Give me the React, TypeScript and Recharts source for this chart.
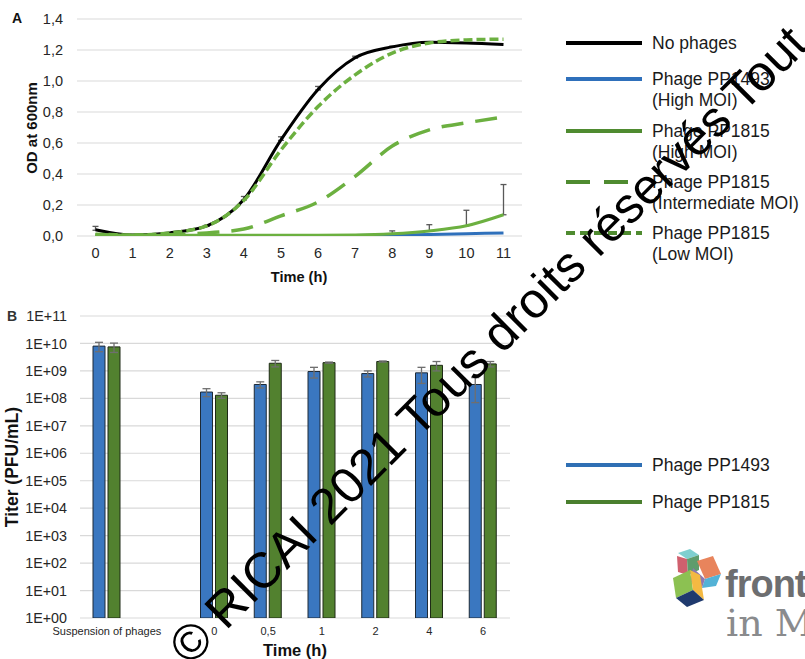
import React from 'react';
import { LineChart, Line, XAxis, YAxis, CartesianGrid, ErrorBar, BarChart, Bar } from 'recharts';

// ---------- Panel A data ----------
const hours = ['0', '1', '2', '3', '4', '5', '6', '7', '8', '9', '10', '11'];
const noPhages = [0.04, 0.006, 0.02, 0.065, 0.235, 0.62, 0.945, 1.15, 1.22, 1.25, 1.245, 1.235];
const pp1493High = [0.005, 0.003, 0.003, 0.003, 0.003, 0.003, 0.003, 0.004, 0.006, 0.01, 0.015, 0.02];
const pp1815High = [0.01, 0.005, 0.005, 0.005, 0.005, 0.005, 0.005, 0.007, 0.015, 0.033, 0.066, 0.137];
const pp1815Inter = [0.005, 0.004, 0.008, 0.02, 0.045, 0.13, 0.22, 0.385, 0.58, 0.685, 0.73, 0.767];
const pp1815Low = [0.012, 0.006, 0.02, 0.065, 0.23, 0.555, 0.835, 1.04, 1.18, 1.245, 1.265, 1.27];
const noPhagesErr = [0.022, null, null, 0.005, 0.02, 0.02, 0.02, 0.01, 0.005, null, null, null];
const pp1815HighErr = [null, null, null, null, null, null, null, null, 0.018, 0.04, 0.1, 0.195];
const odTicks = [0, 0.2, 0.4, 0.6, 0.8, 1.0, 1.2, 1.4];

// ---------- Panel B data ----------
const titerCats = ['Suspension of phages', '', '0', '0,5', '1', '2', '4', '6'];
const titer1493 = [8e9, null, 1.7e8, 3.2e8, 9.5e8, 8e8, 8.5e8, 3.2e8];
const titer1815 = [7.5e9, null, 1.3e8, 1.9e9, 2e9, 2.2e9, 1.6e9, 1.8e9];
const titer1493Err = [3e9, null, 0.55e8, 0.8e8, 0.4e9, 0.2e9, 0.5e9, 2.5e8];
const titer1815Err = [2.8e9, null, 0.3e8, 0.5e9, 0.1e9, 0.1e9, 0.6e9, 0.4e9];
const titerTicks = [1, 1e1, 1e2, 1e3, 1e4, 1e5, 1e6, 1e7, 1e8, 1e9, 1e10, 1e11];

const lineData = hours.map((t, i) => ({
  t,
  noPhages: noPhages[i],
  pp1493High: pp1493High[i],
  pp1815High: pp1815High[i],
  pp1815Inter: pp1815Inter[i],
  pp1815Low: pp1815Low[i],
  noErr: noPhagesErr[i] == null ? null : [0.003, noPhagesErr[i]],
  highErr: pp1815HighErr[i] == null ? null : [0, pp1815HighErr[i]],
}));

const barData = titerCats.map((c, i) => ({
  c,
  p1493: titer1493[i],
  p1815: titer1815[i],
  e1493: titer1493Err[i],
  e1815: titer1815Err[i],
}));

const FONT = '"Liberation Sans", Arial, Helvetica, sans-serif';
const BLACK = '#000000';
const BLUE_LINE = '#2f70bb';
const GREEN_LINE = '#6cb040';
const GREEN_LEG = '#4f8b30';
const BAR_BLUE = '#3a77c0';
const BAR_GREEN = '#52812f';

const legendA = [
  { name: ['No phages'], color: BLACK, dash: undefined as string | undefined, y: 43 },
  { name: ['Phage PP1493', '(High MOI)'], color: BLUE_LINE, dash: undefined, y: 79 },
  { name: ['Phage PP1815', '(High MOI)'], color: GREEN_LEG, dash: undefined, y: 131 },
  { name: ['Phage PP1815', '(Intermediate MOI)'], color: GREEN_LEG, dash: '24 14', y: 182 },
  { name: ['Phage PP1815', '(Low MOI)'], color: GREEN_LEG, dash: '9 5', y: 233 },
];
const legendB = [
  { name: 'Phage PP1493', color: '#2f6fb4', y: 465 },
  { name: 'Phage PP1815', color: '#4a7f2e', y: 502 },
];

const fmtOD = (v: number) => v.toFixed(1).replace('.', ',');
const fmtExp = (v: number) => {
  const e = Math.round(Math.log10(v));
  return '1E+' + (e < 10 ? '0' + e : String(e));
};

export default function App() {
  return (
    <div style={{ position: 'absolute', left: 0, top: 0, width: 805, height: 659, background: '#fff', overflow: 'hidden', fontFamily: FONT }}>
      {/* Panel A */}
      <div style={{ position: 'absolute', left: 0, top: 0 }}>
        <LineChart width={540} height={290} data={lineData} margin={{ top: 19, right: 18, bottom: 24, left: 0 }}>
          <CartesianGrid vertical={false} stroke="#d9d9d9" strokeWidth={1.2} />
          <XAxis dataKey="t" axisLine={false} tickLine={false} tickMargin={6} height={30}
            padding={{ left: 18.5, right: 18.5 }} interval={0}
            tick={{ fontSize: 14.5, fill: '#262626', fontFamily: FONT }} />
          <YAxis type="number" domain={[0, 1.4]} ticks={odTicks} width={77} axisLine={false} tickLine={false}
            tickMargin={8} tickFormatter={fmtOD} allowDataOverflow
            tick={{ fontSize: 14.5, fill: '#262626', fontFamily: FONT }} />
          <Line type="monotone" dataKey="noPhages" stroke={BLACK} strokeWidth={3} dot={false} isAnimationActive={false}>
            <ErrorBar dataKey="noErr" width={3} stroke="#595959" strokeWidth={1.3} direction="y" />
          </Line>
          <Line type="monotone" dataKey="pp1493High" stroke={BLUE_LINE} strokeWidth={3} dot={false} isAnimationActive={false} />
          <Line type="monotone" dataKey="pp1815High" stroke={GREEN_LINE} strokeWidth={3} dot={false} isAnimationActive={false}>
            <ErrorBar dataKey="highErr" width={3} stroke="#595959" strokeWidth={1.3} direction="y" />
          </Line>
          <Line type="monotone" dataKey="pp1815Inter" stroke={GREEN_LINE} strokeWidth={3.5} strokeDasharray="22 12" dot={false} isAnimationActive={false} />
          <Line type="monotone" dataKey="pp1815Low" stroke={GREEN_LINE} strokeWidth={3.5} strokeDasharray="9 4" dot={false} isAnimationActive={false} />
        </LineChart>
      </div>

      {/* Panel B */}
      <div style={{ position: 'absolute', left: 0, top: 290 }}>
        <BarChart width={540} height={369} data={barData} margin={{ top: 26, right: 30, bottom: 11, left: 0 }} barSize={12} barGap={3}>
          <CartesianGrid vertical={false} stroke="#d9d9d9" strokeWidth={1.2} />
          <XAxis dataKey="c" axisLine={false} tickLine={false} tickMargin={3} height={30} interval={0}
            tick={{ fontSize: 11, fill: '#262626', fontFamily: FONT }} />
          <YAxis type="number" scale="log" domain={[1, 1e11]} ticks={titerTicks} width={80} axisLine={false}
            tickLine={false} tickMargin={7} tickFormatter={fmtExp} allowDataOverflow interval={0}
            tick={{ fontSize: 14.3, fill: '#262626', fontFamily: FONT }} />
          <Bar dataKey="p1493" fill={BAR_BLUE} stroke="#1e2a36" strokeWidth={1} isAnimationActive={false}>
            <ErrorBar dataKey="e1493" width={4} stroke="#6f6f6f" strokeWidth={1.3} direction="y" />
          </Bar>
          <Bar dataKey="p1815" fill={BAR_GREEN} stroke="#1e2a16" strokeWidth={1} isAnimationActive={false}>
            <ErrorBar dataKey="e1815" width={4} stroke="#6f6f6f" strokeWidth={1.3} direction="y" />
          </Bar>
        </BarChart>
      </div>

      {/* Overlay: titles, legends, logo, watermark */}
      <svg width={805} height={659} style={{ position: 'absolute', left: 0, top: 0, pointerEvents: 'none' }} fontFamily={FONT}>
        <text x={12} y={23} fontSize={14} fontWeight="bold" fill="#111">A</text>
        <text x={7} y={321} fontSize={14} fontWeight="bold" fill="#333">B</text>
        <text x={299} y={282} fontSize={14.6} fontWeight="bold" textAnchor="middle" fill="#111">Time (h)</text>
        <text transform="translate(37,128) rotate(-90)" fontSize={15} fontWeight="bold" textAnchor="middle" fill="#111">OD at 600nm</text>
        <text x={295} y={656} fontSize={16.5} fontWeight="bold" textAnchor="middle" fill="#111">Time (h)</text>
        <text transform="translate(18,467) rotate(-90)" fontSize={17.5} fontWeight="bold" textAnchor="middle" fill="#111">Titer (PFU/mL)</text>

        {legendA.map((l, i) => (
          <g key={i}>
            <line x1={566} x2={642} y1={l.y} y2={l.y} stroke={l.color} strokeWidth={4} strokeDasharray={l.dash} />
            {l.name.map((n, j) => (
              <text key={j} x={652} y={l.y + 6 + j * 21} fontSize={17.5} fill="#1a1a1a">{n}</text>
            ))}
          </g>
        ))}
        {legendB.map((l, i) => (
          <g key={i}>
            <line x1={566} x2={642} y1={l.y} y2={l.y} stroke={l.color} strokeWidth={4} />
            <text x={652} y={l.y + 6} fontSize={17.5} fill="#1a1a1a">{l.name}</text>
          </g>
        ))}

        {/* frontiers logo */}
        <g>
          <polygon points="678,553 690,549 699,555 687,559" fill="#7fcfcf" />
          <polygon points="677,556 687,559 688,575 678,572" fill="#d0606e" />
          <polygon points="687,559 699,555 699,570 688,575" fill="#5f9c6c" />
          <polygon points="697,561 713,556 721,574 705,579" fill="#e8845c" />
          <polygon points="705,579 721,574 716,586 702,588" fill="#53b2d6" />
          <polygon points="693,568 705,579 702,588 690,582" fill="#8e78b0" />
          <polygon points="673,578 690,570 693,590 676,598" fill="#8cc152" />
          <polygon points="690,570 700,575 704,600 693,590" fill="#f4b942" />
          <polygon points="676,598 693,590 704,600 687,607" fill="#1f3a6e" />
        </g>
        <text x={725} y={597} fontSize={38} fontWeight="bold" fill="#6d6e70" letterSpacing={-1}>frontiers</text>
        <text x={726} y={636} fontSize={38} fontFamily='"DejaVu Serif", "Liberation Serif", serif' fontWeight={300} fill="#8a8b8d">in Medicine</text>

        {/* watermark */}
        <text transform="translate(190,667) rotate(-45)" fontSize={50} fill="#000000"
          fontFamily={FONT}>© RICAI 2021 Tous droits réservés Tout</text>
      </svg>
    </div>
  );
}
